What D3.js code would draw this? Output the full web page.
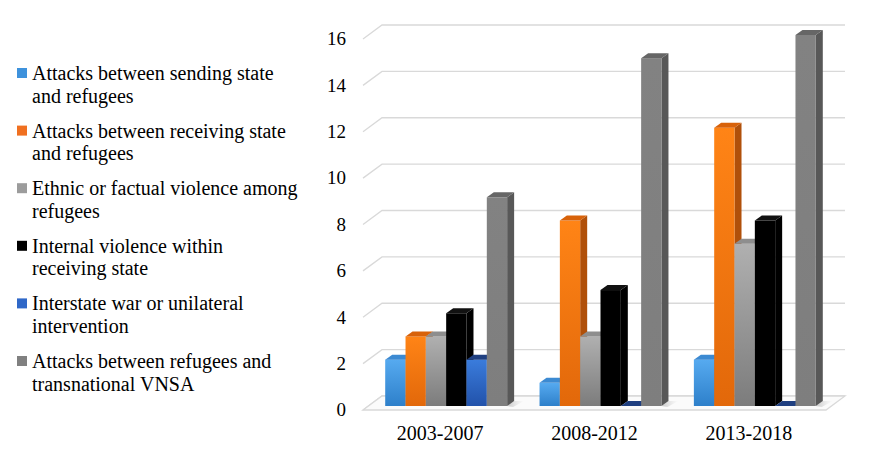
<!DOCTYPE html>
<html>
<head>
<meta charset="utf-8">
<script src="https://cdn.jsdelivr.net/npm/d3@7"></script>
<style>
html,body{margin:0;padding:0;background:#fff;}
svg{display:block;}
svg text{font-family:"Liberation Serif","DejaVu Serif",serif;}
</style>
</head>
<body>
<svg id="chart" width="871" height="457"></svg>
<script>
// ---- data ----
const categories = ["2003-2007", "2008-2012", "2013-2018"];
const seriesNames = [
  ["Attacks between sending state", "and refugees"],
  ["Attacks between receiving state", "and refugees"],
  ["Ethnic or factual violence among", "refugees"],
  ["Internal violence within", "receiving state"],
  ["Interstate war or unilateral", "intervention"],
  ["Attacks between refugees and", "transnational VNSA"]
];
const sendingState   = [2, 1, 2];
const receivingState = [3, 8, 12];
const ethnicViolence = [3, 3, 7];
const internalViolence = [4, 5, 8];
const interstateWar  = [2, 0, 0];
const transnationalVNSA = [9, 15, 16];
const seriesValues = [sendingState, receivingState, ethnicViolence, internalViolence, interstateWar, transnationalVNSA];
const yTicks = [0, 2, 4, 6, 8, 10, 12, 14, 16];

// ---- styles ----
const FONT = "Liberation Serif, DejaVu Serif, serif";
const palette = [
  {top:"#56AAF0", bot:"#2E80CA", side:"#2A6AA8", cap:"#3C8AD2", legend:"#3E92DC"},
  {top:"#FF8416", bot:"#E2680A", side:"#B0500A", cap:"#D8620A", legend:"#F07020"},
  {top:"#B0B0B0", bot:"#7C7C7C", side:"#6E6E6E", cap:"#8E8E8E", legend:"#9C9C9C"},
  {top:"#000000", bot:"#000000", side:"#000000", cap:"#111111", legend:"#000000"},
  {top:"#3A7CDC", bot:"#2252AA", side:"#1C438A", cap:"#1F3F80", legend:"#2F68C8"},
  {top:"#828282", bot:"#7E7E7E", side:"#585858", cap:"#666666", legend:"#808080"}
];

const svg = d3.select("#chart");
const defs = svg.append("defs");
palette.forEach((p, i) => {
  const g = defs.append("linearGradient").attr("id", "g" + i)
    .attr("x1", 0).attr("y1", 0).attr("x2", 0).attr("y2", 1);
  g.append("stop").attr("offset", "0%").attr("stop-color", p.top);
  g.append("stop").attr("offset", "100%").attr("stop-color", p.bot);
});
const shadowGrad = defs.append("linearGradient").attr("id", "shadow")
  .attr("x1", 0).attr("y1", 0).attr("x2", 1).attr("y2", 0);
shadowGrad.append("stop").attr("offset", "0%").attr("stop-color", "#666").attr("stop-opacity", 0.35);
shadowGrad.append("stop").attr("offset", "100%").attr("stop-color", "#aaa").attr("stop-opacity", 0);

// ---- geometry ----
const frontLeft = 363, frontRight = 826;
const depthX = 19, depthY = -14;        // full floor depth
const barOffX = 6, barOffY = -4;        // bar front plane offset
const barDX = 7, barDY = -5;            // bar thickness
const x = d3.scaleBand().domain(categories).range([frontLeft, frontRight]).paddingInner(0).paddingOuter(0);
const y = d3.scaleLinear().domain([0, 16]).range([410, 39]);
const groupInner = 0.79;
const inner = d3.scaleBand().domain(d3.range(seriesValues.length))
  .range([0, x.bandwidth() * groupInner]);
const groupPad = x.bandwidth() * (1 - groupInner) / 2;

// gridlines
const grid = svg.append("g");
yTicks.forEach(t => {
  const y0 = y(t);
  grid.append("path")
    .attr("d", `M${frontLeft},${y0} L${frontLeft + depthX},${y0 + depthY} L${frontRight + depthX},${y0 + depthY}`)
    .attr("fill", "none").attr("stroke", "#D9D9D9").attr("stroke-width", 1.3);
});
// floor
svg.append("path")
  .attr("d", `M${frontLeft},${y(0)} L${frontLeft + depthX},${y(0) + depthY} L${frontRight + depthX},${y(0) + depthY} L${frontRight},${y(0)} Z`)
  .attr("fill", "#FBFBFB").attr("stroke", "#D9D9D9").attr("stroke-width", 1.3);

// tick labels
svg.append("g").selectAll("text").data(yTicks).join("text")
  .attr("x", 346).attr("y", d => y(d) + 2)
  .attr("text-anchor", "end").attr("dominant-baseline", "middle")
  .attr("font-family", FONT).attr("font-size", 19).attr("fill", "#000").text(d => d);

// category labels
svg.append("g").selectAll("text").data(categories).join("text")
  .attr("x", d => x(d) + x.bandwidth() / 2).attr("y", 440)
  .attr("text-anchor", "middle").attr("font-family", FONT).attr("font-size", 20).attr("fill", "#000").text(d => d);

// bars
const bars = svg.append("g");
categories.forEach((c, ci) => {
  const gx = x(c) + groupPad + barOffX;
  const base = y(0) + barOffY;
  const lastX = gx + inner(seriesValues.length - 1) + inner.bandwidth();
  bars.append("path")
    .attr("d", `M${lastX},${base} L${lastX + barDX},${base + barDY} L${lastX + barDX + 10},${base + barDY} L${lastX + 6},${base + 1} Z`)
    .attr("fill", "url(#shadow)");
  seriesValues.forEach((vals, si) => {
    const v = vals[ci];
    const p = palette[si];
    const x0 = gx + inner(si);
    const w = inner.bandwidth();
    const yt = y(v) + barOffY;
    const h = base - yt;
    if (h > 0.5) {
      bars.append("path")
        .attr("d", `M${x0 + w},${yt} L${x0 + w + barDX},${yt + barDY} L${x0 + w + barDX},${base + barDY} L${x0 + w},${base} Z`)
        .attr("fill", p.side);
      bars.append("rect").attr("x", x0).attr("y", yt).attr("width", w).attr("height", h)
        .attr("fill", `url(#g${si})`);
    }
    bars.append("path")
      .attr("d", `M${x0},${yt} L${x0 + barDX},${yt + barDY} L${x0 + w + barDX},${yt + barDY} L${x0 + w},${yt} Z`)
      .attr("fill", p.cap);
  });
});

// legend
const legend = svg.append("g");
seriesNames.forEach((lines, i) => {
  const by = 80 + i * 57.6;
  legend.append("rect").attr("x", 17).attr("y", by - 12).attr("width", 10).attr("height", 10)
    .attr("fill", palette[i].legend);
  lines.forEach((ln, li) => {
    legend.append("text").attr("x", 32).attr("y", by + li * 22.5)
      .attr("font-family", FONT).attr("font-size", 20).attr("fill", "#000").text(ln);
  });
});
</script>
</body>
</html>
